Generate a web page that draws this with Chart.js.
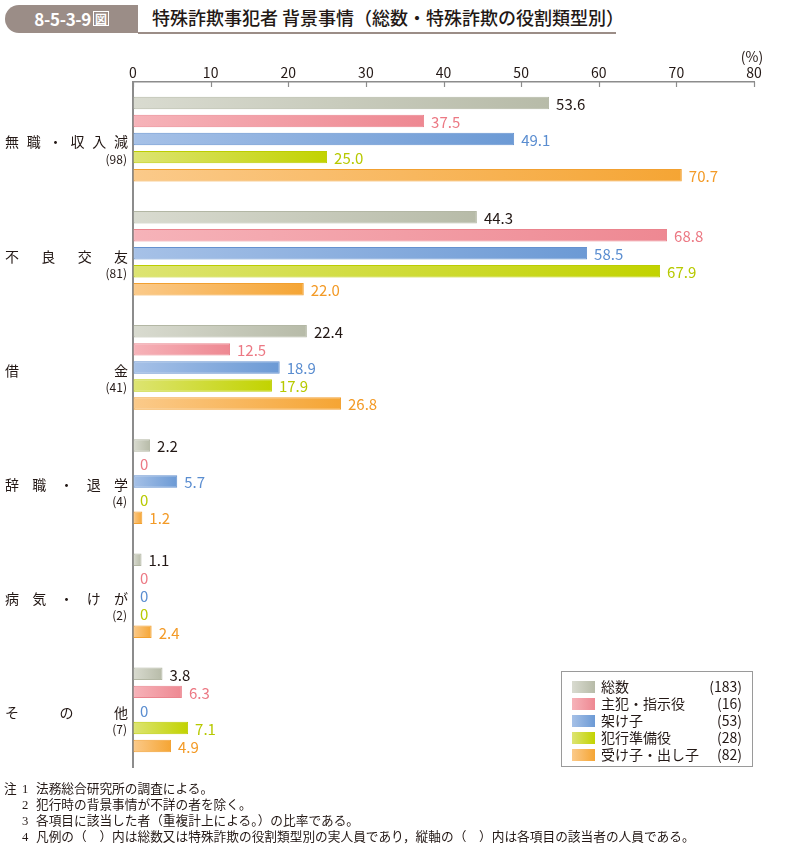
<!DOCTYPE html>
<html lang="ja">
<head>
<meta charset="utf-8">
<script src="https://cdn.jsdelivr.net/npm/chart.js@4/dist/chart.umd.min.js"></script>
<style>
  html, body { margin: 0; padding: 0; background: #fff; }
  body { width: 792px; height: 849px; position: relative; overflow: hidden;
         font-family: "Noto Sans CJK JP", "Noto Sans", sans-serif; color: #231815; }
  #tab { position: absolute; left: 5px; top: 5px; width: 133px; height: 28px; background: #9b8d87;
         border-radius: 14px 0 0 14px; color: #fff; font-weight: bold; font-size: 17px; line-height: 28px;
         text-align: center; letter-spacing: -0.3px; }
  #tab span { display: inline-block; font-size: 12px; line-height: 13px; border: 1px solid #fff; padding: 0 1px; margin-left: 2px; vertical-align: 2px; font-weight: bold; }
  #rule { position: absolute; left: 138px; top: 32px; width: 478px; height: 1.5px; background: #9b8d87; }
  #title { position: absolute; left: 152px; top: 5px; font-size: 18px; line-height: 25px; font-weight: 500; white-space: nowrap; }
  #chartwrap { position: absolute; left: 0; top: 0; width: 792px; height: 849px; }
  .note { position: absolute; font-size: 12.7px; line-height: 14px; white-space: nowrap;
          font-family: "Liberation Serif", "Noto Sans CJK JP", serif; }
</style>
</head>
<body>
<div id="tab">8-5-3-9<span>図</span></div>
<div id="rule"></div>
<div id="title">特殊詐欺事犯者 背景事情（総数・特殊詐欺の役割類型別）</div>
<div id="chartwrap"><canvas id="c" width="792" height="849"></canvas></div>
<div class="note" style="left:4px;top:782px;">注</div>
<div class="note" style="left:22px;top:782px;">1</div>
<div class="note" style="left:36px;top:782px;">法務総合研究所の調査による。</div>
<div class="note" style="left:22px;top:798px;">2</div>
<div class="note" style="left:36px;top:798px;">犯行時の背景事情が不詳の者を除く。</div>
<div class="note" style="left:22px;top:814px;">3</div>
<div class="note" style="left:36px;top:814px;">各項目に該当した者（重複計上による。）の比率である。</div>
<div class="note" style="left:22px;top:830px;">4</div>
<div class="note" style="left:36px;top:830px;">凡例の（　）内は総数又は特殊詐欺の役割類型別の実人員であり，縦軸の（　）内は各項目の該当者の人員である。</div>
<script>
// ---- data ----
const categories = ['無職・収入減', '不良交友', '借金', '辞職・退学', '病気・けが', 'その他'];
const categoryCounts = [98, 81, 41, 4, 2, 7];
const seriesNames = ['総数', '主犯・指示役', '架け子', '犯行準備役', '受け子・出し子'];
const seriesCounts = [183, 16, 53, 28, 82];
const total      = [53.6, 44.3, 22.4, 2.2, 1.1, 3.8];
const leader     = [37.5, 68.8, 12.5, 0, 0, 6.3];
const caller     = [49.1, 58.5, 18.9, 5.7, 0, 0];
const preparer   = [25.0, 67.9, 17.9, 0, 0, 7.1];
const receiver   = [70.7, 22.0, 26.8, 1.2, 2.4, 4.9];
const xTicks     = [0, 10, 20, 30, 40, 50, 60, 70, 80];

// ---- styles ----
const FONT = '"Noto Sans CJK JP", "Noto Sans", sans-serif';
const styles = [
  { light: '#d9dbd0', dark: '#b7bba8', border: '#b3b7a4', text: '#231815' },
  { light: '#f6b3b9', dark: '#ee8892', border: '#ea838d', text: '#ec7984' },
  { light: '#a6c1e7', dark: '#6c9ad5', border: '#6592d0', text: '#5a8dd0' },
  { light: '#dde472', dark: '#c2d300', border: '#bccd00', text: '#b7c900' },
  { light: '#fbca8a', dark: '#f5a534', border: '#f2a030', text: '#f39a26' }
];
const seriesData = [total, leader, caller, preparer, receiver];

function gradFor(chart, s, v) {
  const area = chart.chartArea;
  if (!area || !chart.scales.x) return styles[s].light;
  const x0 = chart.scales.x.getPixelForValue(0);
  let x1 = chart.scales.x.getPixelForValue(v);
  if (x1 - x0 < 2) x1 = x0 + 2;
  const g = chart.ctx.createLinearGradient(x0, 0, x1, 0);
  g.addColorStop(0, styles[s].light);
  g.addColorStop(1, styles[s].dark);
  return g;
}

const datasets = seriesNames.map((name, s) => ({
  label: name,
  data: seriesData[s],
  backgroundColor: (ctx) => gradFor(ctx.chart, s, ctx.raw || 0),
  borderColor: styles[s].border,
  borderWidth: (ctx) => (ctx.raw ? 1 : 0),
  borderSkipped: false,
  categoryPercentage: 0.79,
  barPercentage: 0.69
}));

const decor = {
  id: 'decor',
  afterDraw(chart) {
    const ctx = chart.ctx;
    const xs = chart.scales.x, ys = chart.scales.y, area = chart.chartArea;
    ctx.save();
    // inward tick marks
    ctx.strokeStyle = '#8c8c8c';
    ctx.lineWidth = 1.2;
    xTicks.forEach(t => {
      const px = Math.round(xs.getPixelForValue(t)) + 0.5;
      ctx.beginPath(); ctx.moveTo(px, area.top); ctx.lineTo(px, area.top + 5); ctx.stroke();
    });
    // (%)
    ctx.fillStyle = '#231815';
    ctx.font = '14px ' + FONT;
    ctx.textAlign = 'center'; ctx.textBaseline = 'middle';
    ctx.fillText('(%)', xs.getPixelForValue(80) - 2, 57);
    // category labels (justified)
    categories.forEach((name, i) => {
      const cy = ys.getPixelForValue(i);
      const chars = Array.from(name);
      const first = 12, last = 121;
      ctx.font = '14px ' + FONT;
      ctx.textAlign = 'center'; ctx.textBaseline = 'middle';
      chars.forEach((ch, k) => {
        const cx = chars.length > 1 ? first + k * (last - first) / (chars.length - 1) : last;
        ctx.fillText(ch, cx, cy + 3);
      });
      ctx.font = '12px ' + FONT;
      ctx.textAlign = 'right';
      ctx.fillText('(' + categoryCounts[i] + ')', 127, cy + 20);
    });
    // value labels
    ctx.font = '15px ' + FONT;
    ctx.textAlign = 'left'; ctx.textBaseline = 'middle';
    chart.data.datasets.forEach((ds, s) => {
      const meta = chart.getDatasetMeta(s);
      meta.data.forEach((el, i) => {
        const v = ds.data[i];
        ctx.fillStyle = styles[s].text;
        ctx.fillText(v === 0 ? '0' : v.toFixed(1), el.x + 7, el.y + 1);
      });
    });
    // legend box
    const bx = 561, by = 671, bw = 191, bh = 95;
    ctx.fillStyle = '#fff';
    ctx.fillRect(bx, by, bw, bh);
    ctx.strokeStyle = '#9a9a9a'; ctx.lineWidth = 1;
    ctx.strokeRect(bx + 0.5, by + 0.5, bw, bh);
    seriesNames.forEach((name, s) => {
      const cy = 687 + s * 17;
      const g = ctx.createLinearGradient(572, 0, 595, 0);
      g.addColorStop(0, styles[s].light); g.addColorStop(1, styles[s].dark);
      ctx.fillStyle = g;
      ctx.fillRect(572, cy - 6, 23, 12);
      ctx.fillStyle = '#231815';
      ctx.font = '14px ' + FONT;
      ctx.textAlign = 'left';
      ctx.fillText(name, 601, cy);
      ctx.textAlign = 'right';
      ctx.fillText('(' + seriesCounts[s] + ')', 742, cy);
    });
    ctx.restore();
  }
};

new Chart(document.getElementById('c'), {
  type: 'bar',
  data: { labels: categories, datasets },
  options: {
    indexAxis: 'y',
    responsive: false,
    animation: false,
    layout: { padding: { left: 133, right: 38, top: 52, bottom: 82 } },
    plugins: { legend: { display: false }, tooltip: { enabled: false } },
    scales: {
      x: {
        position: 'top', min: 0, max: 80,
        afterBuildTicks: (sc) => { sc.ticks = xTicks.map(v => ({ value: v })); },
        afterFit: (sc) => { sc.height = 30; },
        grid: { display: true, drawOnChartArea: false, drawTicks: false },
        border: { display: true, color: '#8c8c8c', width: 1.5 },
        ticks: { padding: 1, color: '#231815', font: { size: 14, family: FONT } }
      },
      y: {
        afterFit: (sc) => { sc.width = 0; },
        grid: { display: false, drawTicks: false },
        border: { display: true, color: '#8c8c8c', width: 2 },
        ticks: { display: false }
      }
    }
  },
  plugins: [decor]
});
</script>
</body>
</html>
